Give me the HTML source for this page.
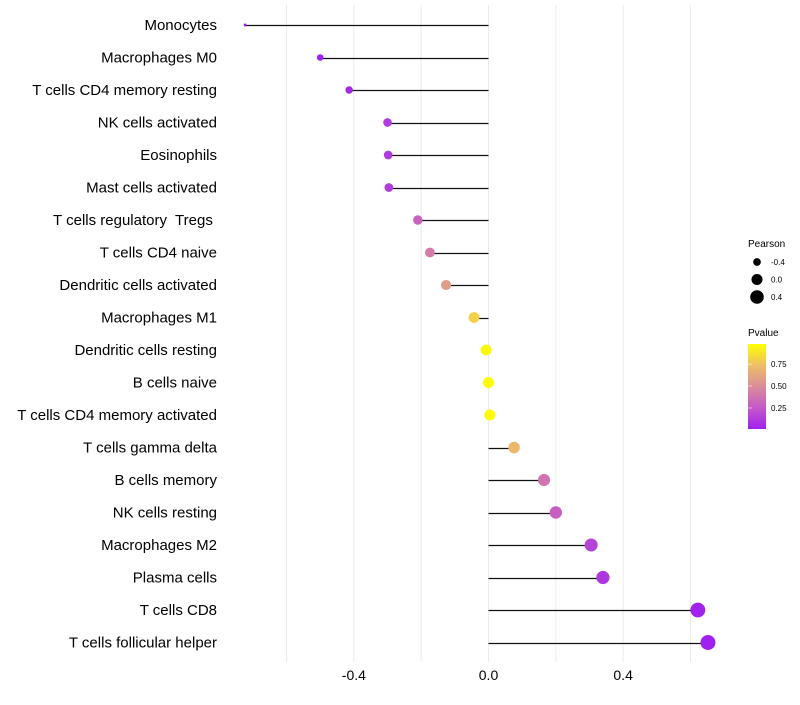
<!DOCTYPE html>
<html><head><meta charset="utf-8"><style>
body{margin:0;background:#fff;font-family:"Liberation Sans",sans-serif;}
svg text{font-family:"Liberation Sans",sans-serif;white-space:pre;}
</style></head><body>
<svg id="chart" width="800" height="700" xmlns="http://www.w3.org/2000/svg">
<defs><linearGradient id="pg" x1="0" y1="1" x2="0" y2="0">
<stop offset="0" stop-color="#A020F0"/><stop offset="0.25" stop-color="#C45AC8"/><stop offset="0.5" stop-color="#DA8C9A"/><stop offset="0.75" stop-color="#EEBF66"/><stop offset="1" stop-color="#FFFF00"/></linearGradient></defs>
<g id="grid"></g><g id="marks"></g><g id="labels"></g>
<g>
<text x="748" y="247" font-size="10" fill="#000">Pearson</text>
<g id="sizeLegend"></g>
<text x="748" y="336" font-size="10" fill="#000">Pvalue</text>
<rect x="748" y="344" width="18" height="85" fill="url(#pg)"/>
<g id="colorLegend"></g>
</g>
</svg>
<script>
const categories=["Monocytes","Macrophages M0","T cells CD4 memory resting","NK cells activated","Eosinophils","Mast cells activated","T cells regulatory  Tregs ","T cells CD4 naive","Dendritic cells activated","Macrophages M1","Dendritic cells resting","B cells naive","T cells CD4 memory activated","T cells gamma delta","B cells memory","NK cells resting","Macrophages M2","Plasma cells","T cells CD8","T cells follicular helper"];
const pearson=[-0.723,-0.50,-0.414,-0.30,-0.298,-0.296,-0.21,-0.174,-0.126,-0.043,-0.007,0.0,0.004,0.076,0.165,0.20,0.305,0.34,0.622,0.652];
const pvalues=[0.0,0.01,0.03,0.12,0.12,0.12,0.3,0.42,0.58,0.82,0.97,0.99,0.98,0.72,0.38,0.28,0.15,0.1,0.01,0.0];
const xTicks=[-0.4,0.0,0.4];
const xGrid=[-0.6,-0.4,-0.2,0,0.2,0.4,0.6];
const sizeLegendVals=[-0.4,0.0,0.4];
const colorLegendVals=[0.25,0.5,0.75];
const NS="http://www.w3.org/2000/svg";
const X=v=>488.5+v*336.6;
const Y=i=>25+i*32.5;
const R=v=>Math.sqrt(Math.max(0.5,2.25+(v+0.72)*39.2));
const stops=[[0,[160,32,240]],[0.25,[196,90,200]],[0.5,[218,140,154]],[0.75,[238,191,102]],[1,[255,255,0]]];
function col(p){p=Math.max(0,Math.min(1,p));for(let k=0;k<stops.length-1;k++){const[a,ca]=stops[k],[b,cb]=stops[k+1];if(p<=b){const t=(p-a)/(b-a);return`rgb(${ca.map((c,j)=>Math.round(c+(cb[j]-c)*t)).join(",")})`;}}return"#ff0";}
function mk(t,at,parent){const e=document.createElementNS(NS,t);for(const k in at)e.setAttribute(k,at[k]);document.getElementById(parent).appendChild(e);return e;}
xGrid.forEach(g=>{const l=mk("line",{x1:X(g),x2:X(g),y1:5,y2:662,stroke:"#ebebeb","stroke-width":1},"grid");

});
xTicks.forEach(t=>{const e=mk("text",{x:X(t),y:680,"font-size":14,"text-anchor":"middle",fill:"#000"},"labels");e.textContent=t.toFixed(1);

});
categories.forEach((c,i)=>{
const t=mk("text",{x:217,y:Y(i)+5,"font-size":15,"text-anchor":"end",fill:"#000"},"labels");t.textContent=c;


const l=mk("line",{x1:X(0),x2:X(pearson[i]),y1:Math.round(Y(i))+0.5,y2:Math.round(Y(i))+0.5,stroke:"#111","stroke-width":1.2},"marks");


const d=mk("circle",{cx:X(pearson[i]),cy:Y(i),r:R(pearson[i]),fill:col(pvalues[i])},"marks");


});
sizeLegendVals.forEach((v,k)=>{const y=262+k*17.5;
const c=mk("circle",{cx:757,cy:y,r:R(v),fill:"#000"},"sizeLegend");


const t=mk("text",{x:771,y:y+3,"font-size":8,fill:"#000"},"sizeLegend");t.textContent=v.toFixed(1);

});
colorLegendVals.forEach(v=>{const y=429-(v-0.01)/0.97*85;
const l=mk("line",{x1:748,x2:752,y1:y,y2:y,stroke:"#fff","stroke-width":0.8,opacity:0.7},"colorLegend");


const t=mk("text",{x:771,y:y+3,"font-size":8,fill:"#000"},"colorLegend");t.textContent=v.toFixed(2);

});
</script>
</body></html>
